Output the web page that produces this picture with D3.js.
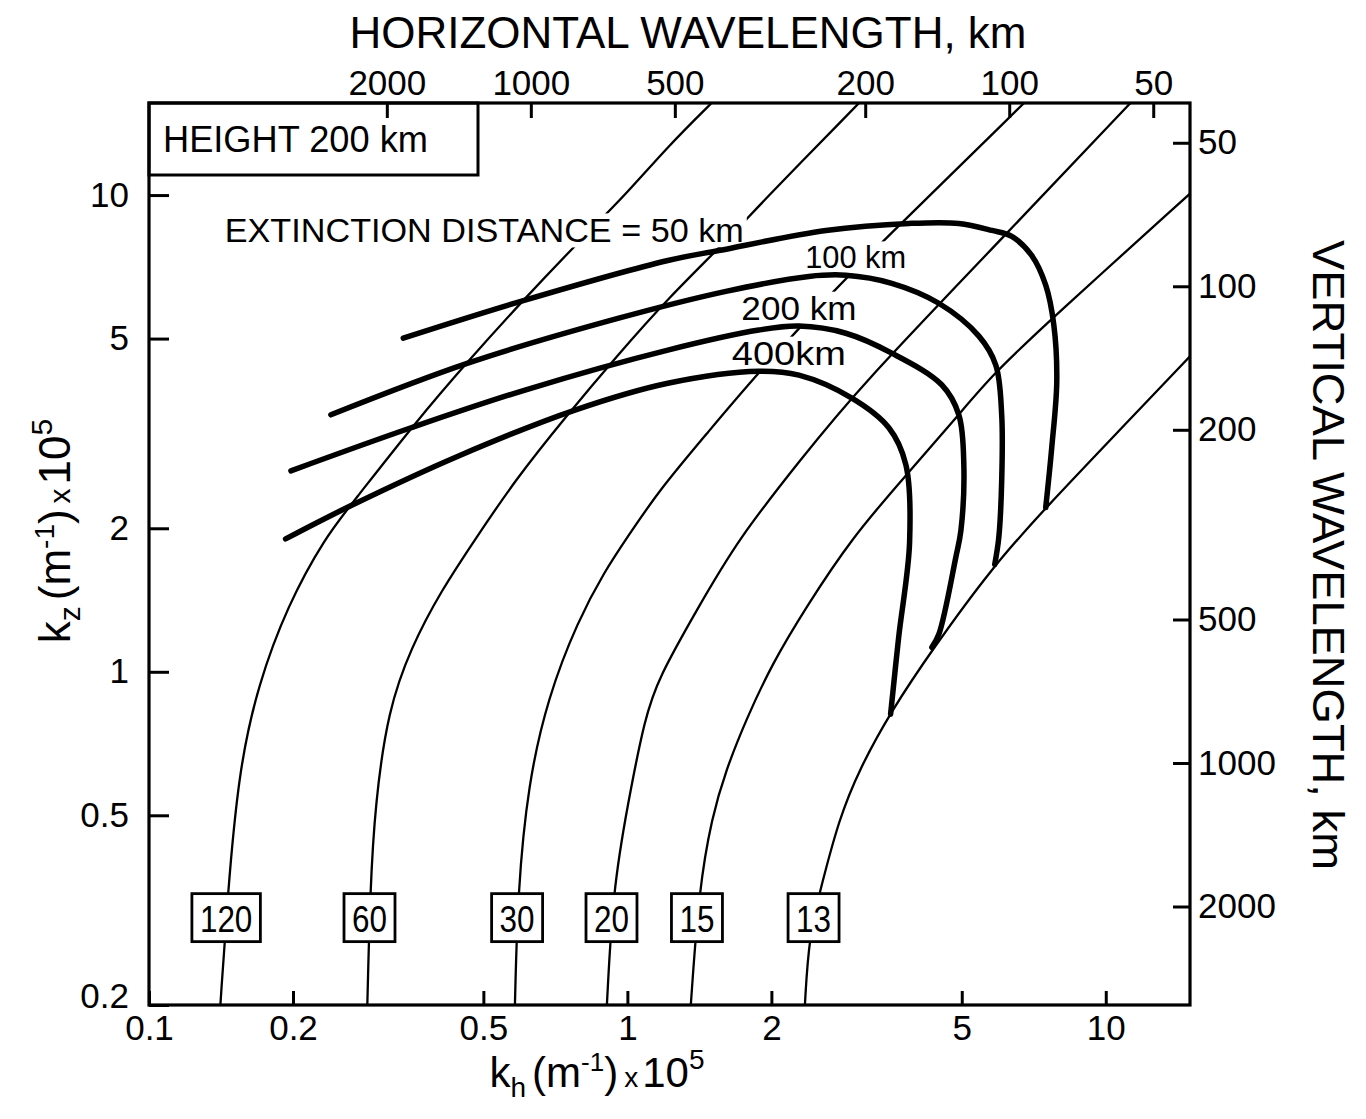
<!DOCTYPE html>
<html>
<head>
<meta charset="utf-8">
<script src="https://cdn.jsdelivr.net/npm/d3@7"></script>
<style>
body { margin: 0; background: #fff; }
text { font-family: "Liberation Sans", Arial, sans-serif; fill: #000; }
</style>
</head>
<body>
<svg id="chart" width="1366" height="1119"></svg>
<script>
// wave period curves (minutes), points as [kh, kz] in 1e-5 m^-1
const p120 = [[0.141,0.2],[0.146,0.34],[0.154,0.62],[0.169,0.94],[0.195,1.38],[0.233,1.91],[0.269,2.29],[0.36,3.33],[0.464,4.48],[0.61,6.07],[0.815,8.23],[0.99,10],[1.22,12.7],[1.5,15.6]];
const p60 = [[0.286,0.2],[0.29,0.349],[0.297,0.528],[0.316,0.831],[0.353,1.125],[0.408,1.48],[0.483,1.91],[0.582,2.52],[0.74,3.41],[0.955,4.62],[1.215,6.07],[1.645,8.19],[1.883,9.51],[3.05,15.6]];
const p30 = [[0.582,0.2],[0.59,0.346],[0.62,0.582],[0.682,0.884],[0.788,1.28],[0.898,1.63],[0.998,1.91],[1.164,2.4],[1.47,3.17],[1.856,4.19],[2.767,6.47],[3.47,8.11],[6.75,15.6]];
const p20 = [[0.906,0.2],[0.933,0.349],[1.002,0.528],[1.088,0.803],[1.164,0.974],[1.391,1.339],[1.71,1.91],[2.3,2.78],[3.0,3.88],[6.27,8.39],[11.33,15.7]];
const p15 = [[1.357,0.2],[1.411,0.349],[1.502,0.496],[1.607,0.622],[1.769,0.792],[2.004,1.037],[2.361,1.364],[2.946,1.91],[3.78,2.55],[4.93,3.46],[5.78,4.19],[7.71,5.51],[15.0,10.07]];
const p13 = [[2.35,0.2],[2.395,0.278],[2.55,0.359],[2.767,0.489],[3.046,0.622],[3.57,0.831],[4.328,1.109],[5.78,1.654],[7.49,2.209],[10.65,3.2],[15.0,4.59]];
const periodLabels = ['120', '60', '30', '20', '15', '13'];
const periodCurves = [p120, p60, p30, p20, p15, p13];

// extinction distance curves
const e50 = [[0.34,5.01],[0.611,6.02],[1.215,7.29],[1.553,7.65],[2.6,8.43],[3.88,8.72],[4.93,8.72],[5.78,8.43],[6.36,8.19],[7.0,7.47],[7.49,6.47],[7.79,5.33],[7.9,4.07],[7.71,2.95],[7.49,2.21]];
const e100 = [[0.24,3.46],[0.464,4.44],[0.955,5.51],[1.607,6.28],[2.395,6.75],[2.861,6.79],[3.57,6.53],[4.477,5.93],[5.43,5.06],[5.89,4.4],[6.06,3.46],[6.06,2.52],[5.975,1.91],[5.86,1.68]];
const e200 = [[0.198,2.64],[0.353,3.25],[0.611,3.9],[1.215,4.73],[1.883,5.21],[2.283,5.31],[2.861,5.13],[3.57,4.66],[4.54,4.0],[4.93,3.46],[5.05,2.72],[4.98,1.98],[4.86,1.74],[4.48,1.2],[4.33,1.125]];
const e400 = [[0.193,1.9],[0.264,2.23],[0.445,2.84],[0.777,3.54],[1.215,4.03],[1.883,4.27],[2.283,4.19],[2.946,3.75],[3.52,3.25],[3.82,2.72],[3.89,1.87],[3.69,1.18],[3.55,0.815]];
const extinctionLabels = ['EXTINCTION DISTANCE = 50 km', '100 km', '200 km', '400km'];
const extinctionCurves = [e50, e100, e200, e400];

// tick values
const khTicks = [0.1, 0.2, 0.5, 1, 2, 5, 10];
const kzTicks = [0.2, 0.5, 1, 2, 5, 10];
const lambdaHTicks = [2000, 1000, 500, 200, 100, 50];
const lambdaZTicks = [50, 100, 200, 500, 1000, 2000];

const pLeft = 149, pRight = 1190, pTop = 103, pBottom = 1005;
const svg = d3.select('#chart');

const x = d3.scaleLog().domain([0.1, 15]).range([pLeft, pRight]);
const y = d3.scaleLog().domain([0.2, 15.6]).range([pBottom, pTop]);
// wavelength (km) = 2*pi / (k * 1e-5) / 1000
const toKm = k => 2 * Math.PI * 100 / k;
const xTop = d3.scaleLog().domain([toKm(0.1), toKm(15)]).range([pLeft, pRight]);
const yRight = d3.scaleLog().domain([toKm(0.2), toKm(15.6)]).range([pBottom - 5, pTop - 5]);

svg.append('defs').append('clipPath').attr('id', 'plot')
    .append('rect')
    .attr('x', pLeft).attr('y', pTop)
    .attr('width', pRight - pLeft).attr('height', pBottom - pTop);

const thinLine = d3.line()
    .x(d => x(d[0]))
    .y(d => y(d[1]))
    .curve(d3.curveBasis);

const heavyLine = d3.line()
    .x(d => x(d[0]))
    .y(d => y(d[1]))
    .curve(d3.curveCatmullRom.alpha(0.5));

svg.append('g').attr('clip-path', 'url(#plot)')
    .selectAll('.period')
    .data(periodCurves)
    .enter()
    .append('path')
    .attr('class', 'period')
    .attr('d', thinLine)
    .attr('fill', 'none')
    .attr('stroke', '#000')
    .attr('stroke-width', 2.3);

// label anchors (kh, kz) for the extinction labels
const extAnchors = [[0.144, 8.43, 'start'], [3.0, 7.4, 'middle'], [2.283, 5.79, 'middle'], [2.175, 4.66, 'middle']];
const extSizes = [34, 32, 33, 33];
const extLengths = [519, 101, 115, 114];

extinctionLabels.forEach(function(lbl, i) {
    const a = extAnchors[i];
    const g = svg.append('g');
    const t = g.append('text')
        .attr('x', x(a[0]))
        .attr('y', y(a[1]))
        .attr('text-anchor', a[2])
        .attr('dominant-baseline', 'central')
        .attr('font-size', extSizes[i])
        .attr('textLength', extLengths[i])
        .attr('lengthAdjust', 'spacingAndGlyphs')
        .text(lbl);
    const bb = t.node().getBBox();
    g.insert('rect', 'text')
        .attr('x', bb.x - 3).attr('y', bb.y + 2)
        .attr('width', bb.width + 6).attr('height', bb.height - 4)
        .attr('fill', '#fff');
});

svg.append('g').attr('clip-path', 'url(#plot)')
    .selectAll('.ext')
    .data(extinctionCurves)
    .enter()
    .append('path')
    .attr('class', 'ext')
    .attr('d', heavyLine)
    .attr('fill', 'none')
    .attr('stroke', '#000')
    .attr('stroke-width', 5.5)
    .attr('stroke-linecap', 'round');

// period boxes near the bottom
const boxKz = 0.305;
function khAt(curve, kz) {
    for (let i = 0; i < curve.length - 1; i++) {
        const a = curve[i], b = curve[i + 1];
        if (a[1] <= kz && b[1] >= kz) {
            const t = (Math.log(kz) - Math.log(a[1])) / (Math.log(b[1]) - Math.log(a[1]));
            return Math.exp(Math.log(a[0]) + t * (Math.log(b[0]) - Math.log(a[0])));
        }
    }
    return curve[0][0];
}
periodLabels.forEach(function(lbl, i) {
    const cx = x(khAt(periodCurves[i], boxKz));
    const cy = y(boxKz);
    const g = svg.append('g');
    const t = g.append('text')
        .attr('x', cx).attr('y', cy + 2)
        .attr('text-anchor', 'middle')
        .attr('dominant-baseline', 'central')
        .attr('font-size', 37)
        .text(lbl);
    const w = t.node().getComputedTextLength() * 0.85;
    t.attr('textLength', w).attr('lengthAdjust', 'spacingAndGlyphs');
    g.insert('rect', 'text')
        .attr('x', cx - w / 2 - 8).attr('y', cy - 24)
        .attr('width', w + 16).attr('height', 48)
        .attr('fill', '#fff')
        .attr('stroke', '#000')
        .attr('stroke-width', 2.8);
});

// height box
svg.append('rect')
    .attr('x', pLeft).attr('y', pTop)
    .attr('width', 329).attr('height', 72)
    .attr('fill', '#fff')
    .attr('stroke', '#000')
    .attr('stroke-width', 3);
svg.append('text')
    .attr('x', 163).attr('y', 152)
    .attr('font-size', 36)
    .attr('textLength', 265)
    .attr('lengthAdjust', 'spacingAndGlyphs')
    .text('HEIGHT 200 km');

// axes, ticks pointing inward
function styleAxis(g, size) {
    g.select('.domain').remove();
    g.selectAll('.tick line').attr('stroke', '#000').attr('stroke-width', 3);
    g.selectAll('.tick text').attr('font-size', size).attr('fill', '#000');
    g.attr('font-family', null).attr('font-size', null);
}

svg.append('g')
    .attr('transform', 'translate(0,' + pBottom + ')')
    .call(d3.axisBottom(x).tickValues(khTicks).tickFormat(d => String(d)).tickSize(-14).tickPadding(10))
    .call(g => styleAxis(g, 35));

svg.append('g')
    .attr('transform', 'translate(' + pLeft + ',0)')
    .call(d3.axisLeft(y).tickValues(kzTicks).tickFormat(d => String(d)).tickSize(-20).tickPadding(20))
    .call(g => styleAxis(g, 35))
    .call(g => g.selectAll('.tick text').filter(d => d === 0.2).attr('y', -9));

svg.append('g')
    .attr('transform', 'translate(0,' + pTop + ')')
    .call(d3.axisTop(xTop).tickValues(lambdaHTicks).tickFormat(d => String(d)).tickSize(-15).tickPadding(8))
    .call(g => styleAxis(g, 35));

svg.append('g')
    .attr('transform', 'translate(' + pRight + ',0)')
    .call(d3.axisRight(yRight).tickValues(lambdaZTicks).tickFormat(d => String(d)).tickSize(-17).tickPadding(8))
    .call(g => styleAxis(g, 35));

// frame
svg.append('rect')
    .attr('x', pLeft).attr('y', pTop)
    .attr('width', pRight - pLeft).attr('height', pBottom - pTop)
    .attr('fill', 'none')
    .attr('stroke', '#000')
    .attr('stroke-width', 3.2);

// titles
svg.append('text')
    .attr('x', 688).attr('y', 48)
    .attr('text-anchor', 'middle')
    .attr('font-size', 45)
    .attr('textLength', 677)
    .attr('lengthAdjust', 'spacingAndGlyphs')
    .text('HORIZONTAL  WAVELENGTH,  km');

svg.append('text')
    .attr('transform', 'translate(1313,555) rotate(90)')
    .attr('text-anchor', 'middle')
    .attr('font-size', 45)
    .attr('textLength', 630)
    .attr('lengthAdjust', 'spacingAndGlyphs')
    .text('VERTICAL  WAVELENGTH,  km');

function kLabel(g, sub, big, small) {
    g.append('tspan').text('k');
    g.append('tspan').attr('font-size', small).attr('dy', 10).text(sub);
    g.append('tspan').attr('dy', -10).attr('dx', 6).text('(m');
    g.append('tspan').attr('font-size', small - 2).attr('dy', -16).text('-1');
    g.append('tspan').attr('dy', 16).text(')');
    g.append('tspan').attr('font-size', small).attr('dx', 6).text('x');
    g.append('tspan').attr('dx', 4).text('10');
    g.append('tspan').attr('font-size', small).attr('dy', -18).text('5');
}

const bl = svg.append('text')
    .attr('x', 597).attr('y', 1087)
    .attr('text-anchor', 'middle')
    .attr('font-size', 42);
kLabel(bl, 'h', 42, 28);

const ll = svg.append('text')
    .attr('transform', 'translate(70,531) rotate(-90)')
    .attr('text-anchor', 'middle')
    .attr('font-size', 44);
kLabel(ll, 'z', 44, 30);
</script>
</body>
</html>
